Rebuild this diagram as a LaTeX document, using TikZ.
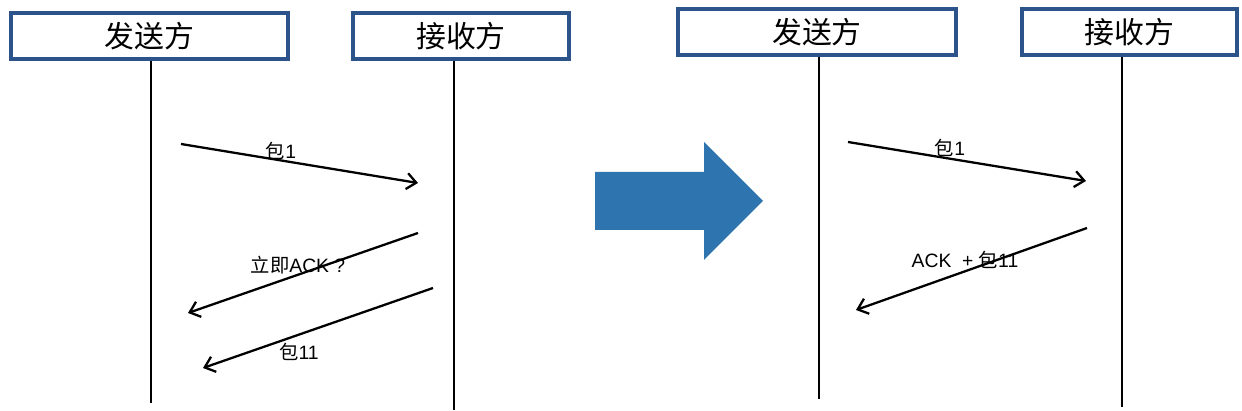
\documentclass[tikz,border=0pt]{standalone}
\usepackage{fontspec}
\setmainfont{Liberation Sans}
\newfontfamily\cjk{Noto Sans CJK SC}
\usetikzlibrary{arrows.meta}
\definecolor{boxblue}{RGB}{44,84,138}
\definecolor{bigblue}{RGB}{46,117,176}

\begin{document}
\begin{tikzpicture}[x=0.02cm, y=-0.02cm, every node/.style={font=\fontsize{11}{13}\selectfont}]
\tikzstyle{party}=[draw=boxblue, line width=1.9pt, fill=white, inner sep=0pt, minimum height=0.92cm, font=\cjk\fontsize{17}{20}\selectfont]
\tikzstyle{life}=[line width=1.6pt]
\tikzstyle{msg}=[line width=1.3pt, -{Straight Barb[length=1.9mm,width=3.2mm]}]
\useasboundingbox (0,0) rectangle (1242,411);
\node[party, minimum width=5.54cm] (sendA) at (149.5,36) {发送方};
\node[party, minimum width=4.32cm] (recvA) at (461,36) {接收方};
\node[party, minimum width=5.56cm] (sendB) at (817,32) {发送方};
\node[party, minimum width=4.30cm] (recvB) at (1129.5,32) {接收方};
\coordinate (sendAend) at (151,403);
\coordinate (recvAend) at (454,410);
\coordinate (sendBend) at (819,399);
\coordinate (recvBend) at (1122,407);
\draw[life] (sendA.south -| sendAend) -- (sendAend);
\draw[life] (recvA.south -| recvAend) -- (recvAend);
\draw[life] (sendB.south -| sendBend) -- (sendBend);
\draw[life] (recvB.south -| recvBend) -- (recvBend);
\coordinate (a1s) at (181,144);
\coordinate (a1e) at (418,183);
\coordinate (a2s) at (418,233);
\coordinate (a2e) at (188,313);
\coordinate (a3s) at (433,288);
\coordinate (a3e) at (203,368);
\draw[msg] (a1s) -- (a1e);
\draw[msg] (a2s) -- (a2e);
\draw[msg] (a3s) -- (a3e);
\node (pktA) at (281,151) {{\cjk 包}1};
\node (ackA) at (298,265) {{\cjk 立即}ACK ?};
\node (pktAA) at (299,352) {{\cjk 包}11};
\fill[bigblue] (595,172) -- (704,172) -- (704,142) -- (763,201) -- (704,260) -- (704,230) -- (595,230) -- cycle;
\coordinate (b1s) at (848,142);
\coordinate (b1e) at (1086,181);
\coordinate (b2s) at (1087,228);
\coordinate (b2e) at (856,310);
\draw[msg] (b1s) -- (b1e);
\draw[msg] (b2s) -- (b2e);
\node (pktB) at (950,148) {{\cjk 包}1};
\node (ackB) at (965,260) {ACK\ \ + {\cjk 包}11};
\end{tikzpicture}
\end{document}
